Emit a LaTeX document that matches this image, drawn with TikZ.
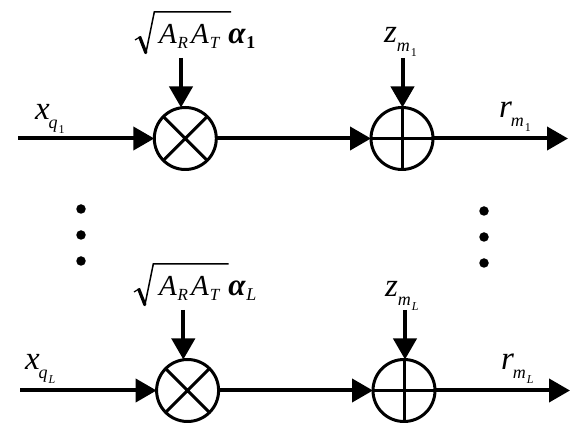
\documentclass[tikz,border=0pt]{standalone}
\usepackage{fontspec}
\setmainfont{Liberation Serif}
\usetikzlibrary{arrows.meta}
\newcommand{\fsz}[1]{\fontsize{#1}{#1}\selectfont}
\newcommand{\mainl}[1]{{\fsz{33}\itshape #1}}
\newcommand{\gainl}[1]{{\fsz{29}\itshape #1}}
\newcommand{\subl}[1]{{\fsz{18}\itshape #1}}
\newcommand{\subsub}[1]{{\fsz{12}#1}}
% #1 kern before subscript, #2 letter, #3 subscript letter, #4 sub-subscript
\newcommand{\lbl}[4]{\mainl{#2}\kern#1pt\raisebox{-9pt}{\subl{#3}\kern1pt\raisebox{-5pt}{\subsub{#4}}}}
\newcommand{\rootl}{\gainl{A}\kern1pt\raisebox{-5pt}{{\fsz{17}\itshape R}}\kern3pt\gainl{A}\kern1pt\raisebox{-5pt}{{\fsz{17}\itshape T}}\kern9pt{\fsz{31}\itshape\bfseries α}}
\tikzset{
  op/.style={circle,draw=black,line width=3pt,minimum size=62pt,inner sep=0pt,outer sep=0pt},
  sig/.style={line width=4pt,-{Triangle[length=21pt,width=23pt]}},
  mark line/.style={line width=3pt},
  lab/.style={inner sep=0pt,outer sep=0pt,anchor=base west},
  vdot/.style={circle,fill=black,minimum size=9.5pt,inner sep=0pt}
}
\begin{document}
\begin{tikzpicture}[x=1pt,y=-1pt]
\useasboundingbox (0,0) rectangle (582,435);
\node[op] (m1) at (185.3,138.5) {};
\node[op] (a1) at (402,138.5) {};
\node[op] (m2) at (187.6,390.5) {};
\node[op] (a2) at (404,390.5) {};
\draw[mark line] (m1.45) -- (m1.225) (m1.135) -- (m1.315);
\draw[mark line] (m2.45) -- (m2.225) (m2.135) -- (m2.315);
\draw[mark line] (a1.west) -- (a1.east) (a1.north) -- (a1.south);
\draw[mark line] (a2.west) -- (a2.east) (a2.north) -- (a2.south);
\coordinate (i1) at (18,138.5);
\coordinate (i2) at (20,390.5);
\coordinate (o1) at (568,138.5);
\coordinate (o2) at (570,390.5);
\coordinate (gs1) at (181,58);
\coordinate (ge1) at (181,107.5);
\coordinate (gs2) at (183.3,310);
\coordinate (ge2) at (183.3,359.5);
\coordinate (zs1) at (402.5,58);
\coordinate (zs2) at (405,310);
\draw[sig] (i1) -- (m1.west);
\draw[sig] (i2) -- (m2.west);
\draw[sig] (m1.east) -- (a1.west);
\draw[sig] (m2.east) -- (a2.west);
\draw[sig] (a1.east) -- (o1);
\draw[sig] (a2.east) -- (o2);
\draw[sig] (gs1) -- (ge1);
\draw[sig] (gs2) -- (ge2);
\draw[sig] (zs1) -- (zs1 |- a1.north);
\draw[sig] (zs2) -- (zs2 |- a2.north);
\node[lab] (lx1) at (35,120) {\lbl{-1}{x}{q}{1}};
\node[lab] (lx2) at (25,370) {\lbl{-1}{x}{q}{\itshape L}};
\node[lab] (lz1) at (384,43) {\lbl{0}{z}{m}{1}};
\node[lab] (lz2) at (385,297) {\lbl{0}{z}{m}{\itshape L}};
\node[lab] (lr1) at (499,118) {\lbl{-1}{r}{m}{1}};
\node[lab] (lr2) at (501,370) {\lbl{-1}{r}{m}{\itshape L}};
\node[lab] (lg1) at (159,43.5) {\rootl\kern1pt\raisebox{-5pt}{{\fsz{18}\bfseries 1}}};
\node[lab] (lg2) at (159,295.5) {\rootl\kern1pt\raisebox{-5pt}{{\fsz{18}\itshape L}}};
\foreach \dx/\dy/\tx in {0/0/230,-1/252/228.5}{
  \begin{scope}[shift={(\dx,\dy)}]
    \draw[line width=1.2pt,line join=miter] (135,40) -- (140,37);
    \draw[line width=3.2pt] (139.5,36.5) -- (146,53);
    \draw[line width=1.5pt,line join=miter] (145.7,54) -- (154.3,12) -- (\tx+1,12);
  \end{scope}
}
\node[vdot] (d1) at (81,209) {};
\node[vdot] (d2) at (81,235) {};
\node[vdot] (d3) at (81,261) {};
\node[vdot] (d4) at (484,211) {};
\node[vdot] (d5) at (484,237) {};
\node[vdot] (d6) at (484,263) {};
\end{tikzpicture}
\end{document}
